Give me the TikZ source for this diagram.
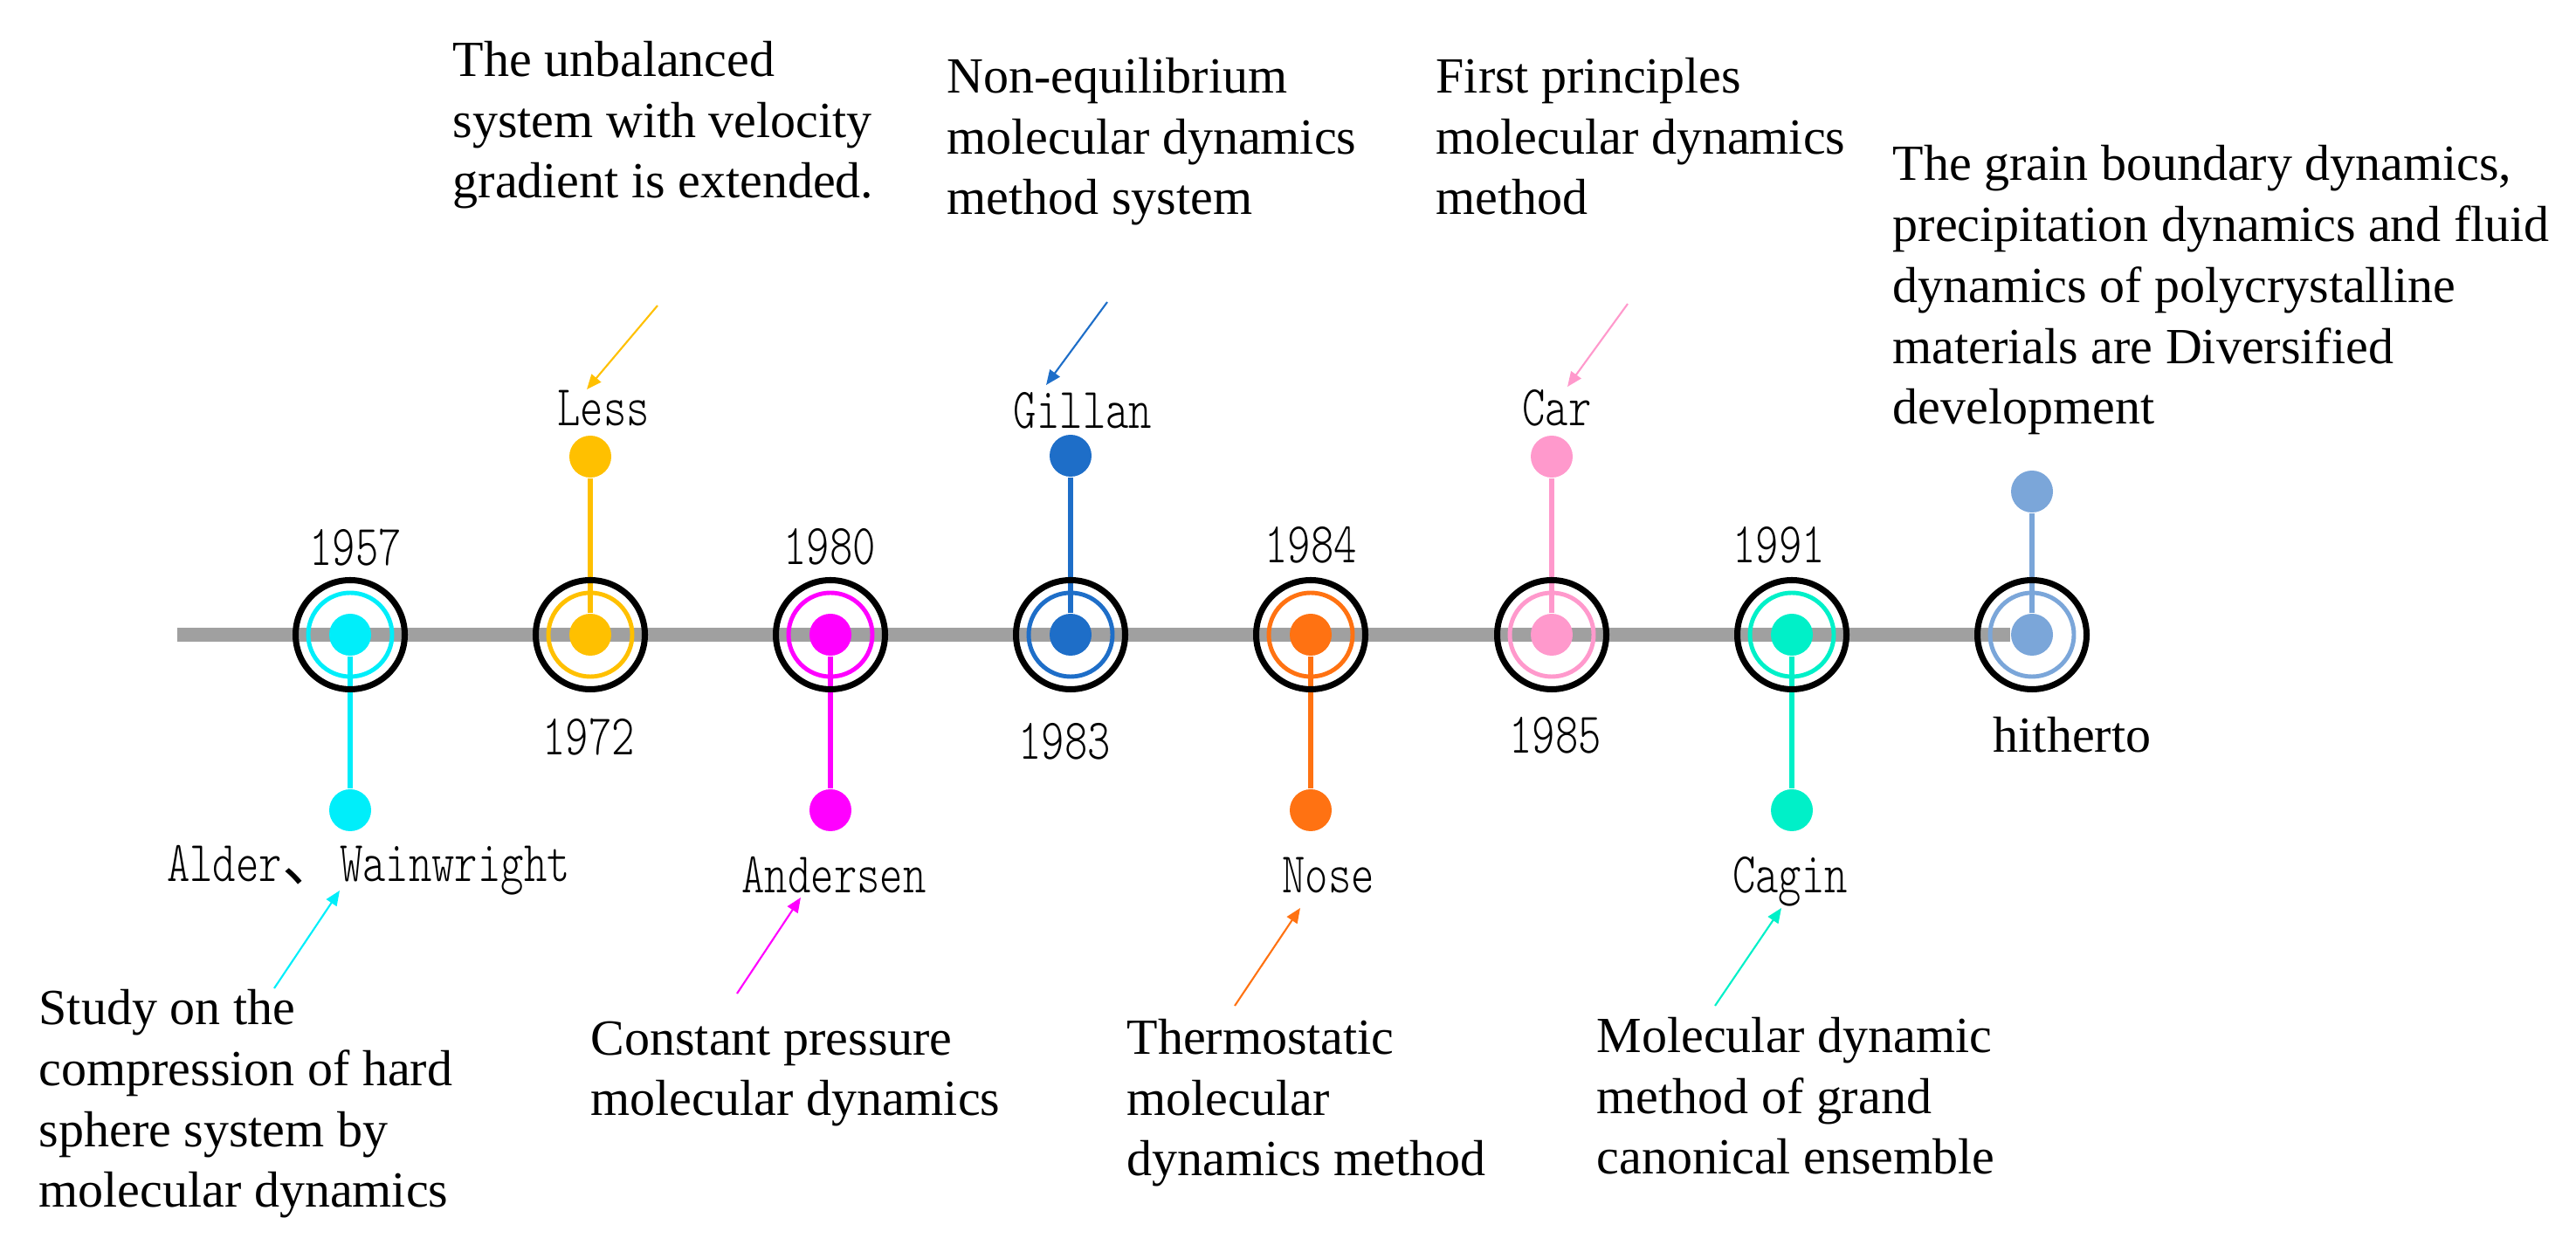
\documentclass[tikz,border=0pt]{standalone}
\usepackage{fontspec}
\setmainfont{Liberation Serif}
\newfontfamily\mononame[FakeStretch=0.76]{lmmonolt10-regular.otf}
\newfontfamily\cjk{Noto Sans CJK SC}
\usepackage{tikz}
\usetikzlibrary{backgrounds}
\usetikzlibrary{arrows.meta}
\definecolor{lineGray}{RGB}{160,160,160}
\definecolor{col1957}{RGB}{0,238,250}
\definecolor{col1972}{RGB}{255,192,0}
\definecolor{col1980}{RGB}{255,0,255}
\definecolor{col1983}{RGB}{30,110,200}
\definecolor{col1984}{RGB}{255,114,18}
\definecolor{col1985}{RGB}{255,153,204}
\definecolor{col1991}{RGB}{0,240,200}
\definecolor{colNow}{RGB}{123,166,217}
\tikzset{outerRing/.style={circle, draw=black, line width=2pt, minimum size=1.25cm, inner sep=0pt}}
\tikzset{innerRing/.style={circle, line width=1.4pt, minimum size=0.96cm, inner sep=0pt}}
\tikzset{bigDot/.style={circle, minimum size=0.48cm, inner sep=0pt}}
\tikzset{yearText/.style={font=\mononame\fontsize{18.8pt}{20pt}\selectfont, anchor=base, inner sep=0pt}}
\tikzset{descText/.style={font=\fontsize{16.5pt}{19.9pt}\selectfont, align=left, anchor=base west, inner sep=0pt}}
\tikzset{timeLine/.style={line width=4.3pt, draw=lineGray}}
\tikzset{stemLine/.style={line width=1.5pt}}
\tikzset{pointer/.style={line width=0.6pt, -{Triangle[length=0.17cm, width=0.14cm]}}}

\begin{document}
\begin{tikzpicture}
\useasboundingbox (0,0) rectangle (29.5,14.26);

\coordinate (lineStart) at (2.03, 6.99);

\node[outerRing] (ring1) at (4.01, 6.99) {};
\node[innerRing, draw=col1957] (mid1) at (4.01, 6.99) {};
\node[bigDot, fill=col1957] (dot1) at (4.01, 6.99) {};
\node[bigDot, fill=col1957] (end1) at (4.01, 4.98) {};
\node[yearText] (year1) at (4.07, 7.78) {1957};
\node[yearText] (name1) at (4.22, 4.16) {Alder{\cjk 、}Wainwright};
\node[descText] (desc1) at (0.44, 0.43) {Study on the\\compression of hard\\sphere system by\\molecular dynamics};
\coordinate (from1) at (3.14, 2.94);
\coordinate (to1) at (3.89, 4.06);

\node[outerRing] (ring2) at (6.76, 6.99) {};
\node[innerRing, draw=col1972] (mid2) at (6.76, 6.99) {};
\node[bigDot, fill=col1972] (dot2) at (6.76, 6.99) {};
\node[bigDot, fill=col1972] (end2) at (6.76, 9.03) {};
\node[yearText] (year2) at (6.74, 5.61) {1972};
\node[yearText] (name2) at (6.91, 9.38) {Less};
\node[descText] (desc2) at (5.18, 11.99) {The unbalanced\\system with velocity\\gradient is extended.};
\coordinate (from2) at (7.53, 10.76);
\coordinate (to2) at (6.72, 9.80);

\node[outerRing] (ring3) at (9.51, 6.99) {};
\node[innerRing, draw=col1980] (mid3) at (9.51, 6.99) {};
\node[bigDot, fill=col1980] (dot3) at (9.51, 6.99) {};
\node[bigDot, fill=col1980] (end3) at (9.51, 4.98) {};
\node[yearText] (year3) at (9.50, 7.79) {1980};
\node[yearText] (name3) at (9.55, 4.03) {Andersen};
\node[descText] (desc3) at (6.76, 1.48) {Constant pressure\\molecular dynamics};
\coordinate (from3) at (8.44, 2.88);
\coordinate (to3) at (9.17, 3.98);

\node[outerRing] (ring4) at (12.26, 6.99) {};
\node[innerRing, draw=col1983] (mid4) at (12.26, 6.99) {};
\node[bigDot, fill=col1983] (dot4) at (12.26, 6.99) {};
\node[bigDot, fill=col1983] (end4) at (12.26, 9.04) {};
\node[yearText] (year4) at (12.19, 5.56) {1983};
\node[yearText] (name4) at (12.40, 9.35) {Gillan};
\node[descText] (desc4) at (10.84, 11.80) {Non-equilibrium\\molecular dynamics\\method system};
\coordinate (from4) at (12.68, 10.80);
\coordinate (to4) at (11.98, 9.85);

\node[outerRing] (ring5) at (15.01, 6.99) {};
\node[innerRing, draw=col1984] (mid5) at (15.01, 6.99) {};
\node[bigDot, fill=col1984] (dot5) at (15.01, 6.99) {};
\node[bigDot, fill=col1984] (end5) at (15.01, 4.98) {};
\node[yearText] (year5) at (15.01, 7.81) {1984};
\node[yearText] (name5) at (15.21, 4.03) {Nose};
\node[descText] (desc5) at (12.90, 0.79) {Thermostatic\\molecular\\dynamics method};
\coordinate (from5) at (14.14, 2.74);
\coordinate (to5) at (14.89, 3.86);

\node[outerRing] (ring6) at (17.77, 6.99) {};
\node[innerRing, draw=col1985] (mid6) at (17.77, 6.99) {};
\node[bigDot, fill=col1985] (dot6) at (17.77, 6.99) {};
\node[bigDot, fill=col1985] (end6) at (17.77, 9.03) {};
\node[yearText] (year6) at (17.81, 5.63) {1985};
\node[yearText] (name6) at (17.83, 9.38) {Car};
\node[descText] (desc6) at (16.44, 11.80) {First principles\\molecular dynamics\\method};
\coordinate (from6) at (18.64, 10.78);
\coordinate (to6) at (17.95, 9.83);

\node[outerRing] (ring7) at (20.52, 6.99) {};
\node[innerRing, draw=col1991] (mid7) at (20.52, 6.99) {};
\node[bigDot, fill=col1991] (dot7) at (20.52, 6.99) {};
\node[bigDot, fill=col1991] (end7) at (20.52, 4.98) {};
\node[yearText] (year7) at (20.37, 7.81) {1991};
\node[yearText] (name7) at (20.50, 4.03) {Cagin};
\node[descText] (desc7) at (18.28, 0.81) {Molecular dynamic\\method of grand\\canonical ensemble};
\coordinate (from7) at (19.64, 2.74);
\coordinate (to7) at (20.40, 3.86);

\node[outerRing] (ring8) at (23.27, 6.99) {};
\node[innerRing, draw=colNow] (mid8) at (23.27, 6.99) {};
\node[bigDot, fill=colNow] (dot8) at (23.27, 6.99) {};
\node[bigDot, fill=colNow] (end8) at (23.27, 8.63) {};
\node[yearText, font=\fontsize{16.5pt}{19.9pt}\selectfont] (year8) at (23.73, 5.64) {hitherto};
\node[descText] (desc8) at (21.67, 9.40) {The grain boundary dynamics,\\precipitation dynamics and fluid\\dynamics of polycrystalline\\materials are Diversified\\development};

\begin{scope}[on background layer]
\draw[timeLine] (lineStart) -- (dot8);
\draw[stemLine, col1957] (dot1) -- (end1);
\draw[stemLine, col1972] (dot2) -- (end2);
\draw[stemLine, col1980] (dot3) -- (end3);
\draw[stemLine, col1983] (dot4) -- (end4);
\draw[stemLine, col1984] (dot5) -- (end5);
\draw[stemLine, col1985] (dot6) -- (end6);
\draw[stemLine, col1991] (dot7) -- (end7);
\draw[stemLine, colNow] (dot8) -- (end8);
\end{scope}

\draw[pointer, col1957] (from1) -- (to1);
\draw[pointer, col1972] (from2) -- (to2);
\draw[pointer, col1980] (from3) -- (to3);
\draw[pointer, col1983] (from4) -- (to4);
\draw[pointer, col1984] (from5) -- (to5);
\draw[pointer, col1985] (from6) -- (to6);
\draw[pointer, col1991] (from7) -- (to7);

\end{tikzpicture}
\end{document}
